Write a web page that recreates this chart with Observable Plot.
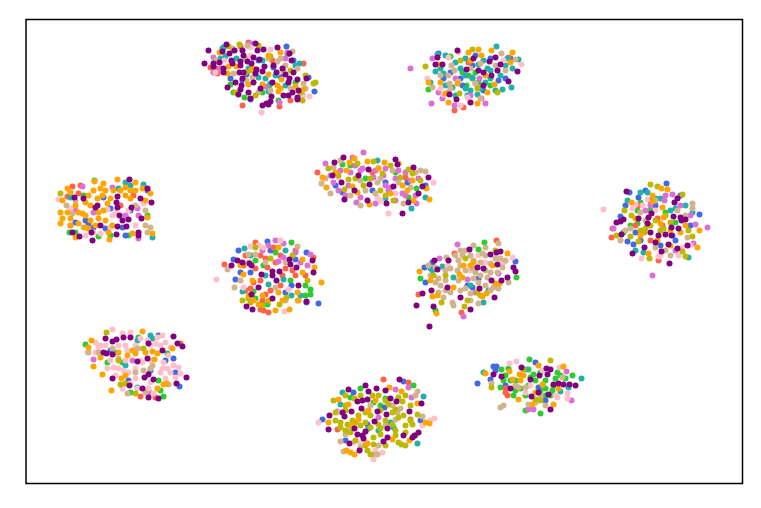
<!DOCTYPE html>
<html><head><meta charset="utf-8">
<style>html,body{margin:0;padding:0;background:#fff}svg{display:block}</style>
<script src="https://cdn.jsdelivr.net/npm/d3@7"></script>
<script src="https://cdn.jsdelivr.net/npm/@observablehq/plot@0.6"></script>
</head><body><div id="c"></div><script>
const green=[[233,92],[244,97],[269,85],[287,54],[295,82],[428,89],[450,56],[472,78],[466,85],[468,75],[475,72],[342,164],[416,188],[365,178],[408,197],[94,180],[69,232],[147,215],[128,235],[98,236],[83,195],[637,210],[637,223],[665,212],[623,232],[291,242],[263,265],[310,289],[305,285],[310,294],[267,304],[255,260],[305,295],[253,291],[420,278],[435,310],[478,249],[516,277],[484,242],[85,344],[167,353],[158,380],[163,396],[138,337],[148,390],[107,362],[413,385],[350,397],[373,402],[529,359],[501,369],[508,368],[500,387],[528,369],[540,413],[525,410],[572,375],[513,395],[557,372],[530,377],[553,385],[552,390],[503,380],[533,374],[540,390],
[230,84],[262,92],[278,100],[462,72],[478,82],[490,85],[350,165],[395,172],[75,232],[110,235],[640,202],[650,210],[630,225],[675,222],[275,252],[290,280],[255,298],[122,362],[160,390],[130,392],[360,388],[385,398],[380,405],[505,375],[515,380],[520,388],[525,395],[545,380],[540,372],[555,378],[560,375],[550,395],[535,380],[515,390],[510,380],[528,385],[545,395],[530,405],[545,388],[565,378]];
const royal=[[286,46],[314,91],[308,77],[273,67],[242,80],[250,99],[223,47],[438,53],[443,78],[483,90],[460,78],[498,80],[510,58],[472,65],[342,192],[407,182],[372,190],[425,185],[103,197],[88,223],[93,227],[147,190],[122,227],[666,183],[638,197],[620,216],[699,214],[635,232],[627,241],[633,244],[672,235],[629,192],[318,303],[267,241],[306,252],[233,259],[235,279],[250,272],[291,285],[295,259],[238,250],[306,302],[424,267],[425,282],[515,261],[472,287],[467,285],[179,386],[175,372],[128,380],[173,358],[158,335],[403,381],[322,419],[353,392],[420,420],[345,440],[384,407],[367,424],[477,383],[493,366],[496,366],[490,379],[535,362],[538,387],
[246,74],[258,60],[280,76],[293,60],[230,78],[450,72],[462,85],[475,55],[490,58],[505,78],[335,185],[385,182],[75,222],[85,220],[105,228],[125,235],[110,208],[130,210],[645,190],[680,195],[625,205],[655,205],[690,225],[640,240],[660,245],[675,240],[650,200],[240,272],[270,250],[285,292],[432,262],[478,278],[150,370],[165,360],[110,350],[495,370],[505,385],[545,400]];
const tomato=[[248,42],[210,67],[303,63],[217,73],[242,105],[279,106],[454,110],[468,62],[508,57],[463,107],[317,172],[372,172],[405,177],[72,186],[133,195],[78,193],[67,196],[611,237],[612,228],[657,218],[638,205],[658,260],[224,264],[255,242],[268,312],[260,309],[263,310],[243,265],[260,255],[282,275],[253,282],[273,247],[313,257],[265,294],[280,255],[292,270],[267,267],[496,240],[418,294],[461,312],[454,253],[140,396],[155,397],[180,343],[383,379],[337,429],[408,382],[410,419],[505,392],[507,395],
[215,68],[272,60],[240,46],[290,100],[80,185],[120,205],[635,225],[662,225],[650,240],[245,255],[255,268],[265,258],[275,262],[285,268],[295,275],[260,280],[270,290],[280,285],[250,288],[295,250],[245,290],[262,300],[305,275],[505,388]];
const teal=[[299,63],[222,48],[268,91],[258,77],[220,58],[270,83],[496,46],[437,54],[435,71],[443,73],[511,87],[502,89],[460,68],[467,95],[477,94],[490,78],[472,77],[507,58],[452,87],[483,60],[430,82],[487,68],[465,88],[518,59],[377,160],[411,208],[425,197],[385,198],[118,188],[143,184],[152,237],[70,197],[627,200],[647,192],[688,257],[692,212],[675,208],[643,252],[655,198],[244,248],[242,291],[291,295],[268,284],[283,279],[442,266],[430,268],[483,302],[453,277],[137,340],[150,335],[137,387],[423,396],[342,392],[340,404],[417,443],[390,422],[393,427],[581,378],[483,372],[568,387],[560,391],[525,369],
[225,56],[236,58],[248,68],[262,60],[275,75],[285,85],[295,65],[265,78],[445,55],[455,62],[465,58],[478,64],[490,70],[505,65],[512,68],[445,85],[470,90],[485,82],[495,90],[500,75],[455,95],[440,68],[465,75],[480,88],[130,185],[125,182],[640,192],[670,210],[660,198],[685,205],[635,250],[250,255],[265,275],[285,250],[300,295],[432,270],[470,285],[488,290],[115,352],[152,338],[125,365],[378,430],[368,428]];
const orchid=[[213,57],[279,102],[250,43],[213,72],[287,52],[302,95],[410,68],[431,103],[432,58],[454,105],[442,98],[485,103],[481,98],[479,78],[475,83],[455,78],[363,152],[352,157],[355,165],[362,168],[325,163],[333,182],[356,202],[385,185],[390,187],[383,175],[373,177],[416,203],[398,170],[410,180],[402,193],[82,186],[112,187],[137,208],[138,238],[70,225],[93,212],[75,210],[125,215],[652,275],[707,227],[695,224],[613,228],[664,200],[693,243],[672,194],[645,210],[283,243],[310,254],[307,265],[262,250],[278,261],[268,245],[283,257],[457,244],[463,316],[467,279],[439,258],[498,273],[475,292],[93,359],[132,360],[148,393],[408,387],[395,389],[411,397],[337,411],[378,417],[566,371],[571,400],[533,409],[528,409],
[220,68],[265,86],[285,58],[448,92],[470,95],[438,92],[340,170],[350,172],[348,185],[360,170],[375,170],[385,168],[395,178],[405,172],[418,178],[405,195],[395,200],[375,203],[360,197],[338,190],[330,175],[345,195],[388,190],[415,195],[138,215],[650,205],[665,195],[680,205],[690,215],[675,250],[275,240],[295,252],[300,262]];
const pink=[[270,49],[309,96],[261,112],[302,96],[250,47],[215,72],[521,64],[448,57],[440,88],[467,97],[460,105],[443,94],[427,78],[388,213],[433,182],[377,197],[380,200],[378,167],[338,177],[395,193],[112,215],[58,199],[70,208],[100,233],[93,232],[143,203],[107,209],[603,209],[632,208],[635,204],[647,199],[641,258],[678,255],[658,256],[682,247],[216,279],[284,311],[250,246],[288,289],[263,247],[243,287],[478,255],[512,257],[470,270],[503,262],[447,265],[112,329],[130,332],[122,333],[157,337],[147,340],[165,342],[87,352],[98,347],[118,345],[127,350],[138,348],[155,343],[162,335],[170,347],[113,367],[118,368],[107,368],[123,370],[135,368],[163,362],[167,368],[173,365],[178,367],[162,368],[175,377],[180,373],[137,388],[122,388],[148,388],[153,393],[95,342],[318,422],[434,418],[373,459],[422,425],[382,452],[360,443],[430,420],[353,442],[338,412],[509,363],[516,361],[559,367],[567,393],[567,398],[557,397],[530,385],[542,370],
[224,60],[250,55],[278,72],[458,52],[503,60],[128,210],[115,212],[135,225],[110,227],[85,235],[642,205],[655,210],[660,255],[690,245],[258,245],[280,240],[485,262],[100,345],[105,345],[125,345],[135,345],[150,345],[160,345],[110,360],[125,360],[140,360],[150,360],[160,372],[170,372],[128,372],[135,378],[150,382],[165,378],[95,352],[130,383],[115,375],[142,362],[168,355],[140,338],[365,442],[375,450],[525,392],[555,395]];
const tan=[[247,45],[292,51],[277,61],[285,65],[283,70],[303,83],[290,88],[255,72],[252,77],[233,73],[270,90],[501,53],[515,59],[451,65],[454,70],[440,75],[449,83],[432,87],[505,70],[480,63],[475,83],[450,88],[458,81],[321,183],[330,193],[333,167],[325,178],[350,195],[375,193],[377,182],[425,171],[420,170],[398,182],[403,203],[392,170],[360,180],[410,187],[66,205],[147,232],[83,227],[145,225],[72,213],[150,227],[692,203],[692,208],[677,210],[620,240],[630,228],[670,255],[655,247],[645,220],[687,237],[625,230],[297,246],[234,287],[227,269],[248,254],[255,254],[285,300],[297,300],[275,287],[240,280],[473,245],[485,247],[498,243],[460,250],[462,255],[446,257],[428,265],[435,267],[438,278],[440,285],[438,292],[443,297],[452,302],[453,305],[430,275],[480,275],[473,278],[465,288],[472,268],[487,277],[482,253],[490,263],[502,267],[495,258],[505,260],[485,255],[457,270],[460,265],[450,268],[478,303],[498,288],[493,287],[508,282],[450,292],[473,260],[485,285],[470,293],[455,255],[112,348],[88,352],[137,348],[152,365],[143,370],[127,393],[98,352],[168,384],[150,368],[340,441],[343,451],[345,434],[415,395],[417,391],[377,454],[373,454],[378,445],[392,405],[422,416],[395,419],[350,427],[397,412],[503,405],[500,407],[491,383],[518,387],[525,387],[562,377],[545,405],[528,404],[535,402],
[215,60],[232,48],[245,58],[268,58],[280,58],[297,68],[305,88],[258,92],[246,80],[448,75],[470,68],[495,65],[480,98],[340,160],[365,190],[380,178],[415,172],[360,205],[75,200],[135,205],[145,210],[640,212],[655,200],[685,215],[665,250],[248,262],[265,262],[285,262],[445,270],[445,280],[458,280],[465,270],[475,272],[485,270],[480,262],[490,272],[465,250],[470,255],[500,258],[478,282],[470,300],[460,290],[445,290],[458,260],[497,272],[490,290],[435,282],[118,358],[135,372],[145,392],[370,405],[400,408],[360,447],[385,425],[515,385],[540,395]];
const olive=[[239,44],[315,82],[313,83],[305,75],[302,100],[258,45],[250,70],[235,92],[425,66],[460,60],[472,49],[497,92],[459,93],[477,88],[328,168],[373,161],[348,179],[344,189],[382,173],[408,169],[412,173],[400,177],[393,200],[380,190],[357,163],[363,185],[60,193],[650,184],[657,186],[682,194],[624,210],[631,215],[645,228],[644,232],[660,230],[663,228],[692,236],[616,235],[630,236],[638,241],[682,251],[685,256],[649,258],[665,215],[688,230],[242,300],[255,247],[279,304],[286,297],[250,302],[270,258],[307,280],[441,302],[464,306],[433,275],[467,300],[477,292],[465,258],[106,332],[120,384],[143,348],[118,360],[135,393],[333,400],[354,398],[378,395],[398,397],[402,401],[388,404],[395,409],[403,415],[398,417],[392,424],[405,425],[340,422],[340,427],[347,424],[352,420],[358,415],[365,422],[370,427],[378,424],[380,434],[373,437],[367,450],[370,454],[398,442],[401,444],[412,424],[417,414],[415,435],[345,405],[335,412],[373,444],[392,412],[365,412],[355,422],[385,420],[550,360],[523,369],[491,387],[535,399],[540,400],
[228,46],[245,72],[270,56],[290,70],[300,92],[255,95],[338,175],[355,178],[370,178],[390,165],[385,195],[420,180],[655,220],[650,225],[670,222],[640,230],[262,305],[248,298],[292,255],[445,275],[480,295],[495,250],[125,383],[345,395],[360,395],[372,395],[385,400],[405,395],[410,405],[395,430],[380,410],[370,415],[345,410],[350,432],[360,425],[380,428],[395,435],[405,432],[405,445],[385,445],[365,445],[345,430],[335,420],[355,440],[410,420]];
const orange=[[268,55],[280,52],[227,73],[248,84],[278,91],[303,89],[281,79],[277,85],[228,66],[491,50],[478,49],[468,52],[512,52],[481,55],[428,82],[457,83],[494,84],[445,93],[448,102],[477,103],[487,92],[438,64],[322,177],[326,187],[349,162],[354,158],[346,170],[367,161],[384,162],[398,163],[369,204],[429,199],[407,190],[412,180],[413,200],[426,188],[357,192],[390,193],[94,181],[117,179],[135,182],[103,183],[125,187],[130,190],[93,190],[100,188],[62,200],[67,188],[85,202],[78,212],[82,213],[60,212],[62,218],[60,223],[97,198],[102,195],[98,212],[103,210],[98,218],[107,203],[147,217],[152,233],[132,233],[109,239],[85,227],[75,237],[78,223],[108,232],[142,188],[150,193],[125,195],[70,225],[95,225],[88,228],[67,212],[661,188],[667,189],[652,195],[652,201],[631,202],[635,218],[662,207],[660,223],[680,232],[699,230],[697,247],[648,253],[657,240],[670,230],[663,217],[321,282],[314,267],[278,247],[289,309],[252,280],[278,292],[258,304],[262,295],[243,274],[302,272],[297,292],[302,259],[253,300],[240,265],[419,271],[507,253],[436,313],[432,296],[437,295],[459,274],[462,277],[463,265],[453,287],[486,293],[482,296],[492,265],[495,283],[499,283],[473,262],[142,331],[91,340],[88,347],[100,357],[93,366],[102,374],[111,390],[127,355],[132,350],[152,351],[157,353],[154,359],[172,348],[121,378],[125,375],[157,388],[163,384],[166,383],[135,353],[338,399],[348,404],[328,422],[368,410],[358,419],[367,443],[346,450],[350,452],[354,454],[392,439],[425,422],[429,423],[409,440],[401,391],[389,387],[417,403],[485,373],[509,371],[519,374],[523,375],[538,365],[563,366],[558,388],[518,399],[532,404],[553,404],[542,384],[512,379],
[219,52],[236,66],[252,68],[268,74],[262,84],[280,88],[295,86],[470,60],[485,75],[510,62],[440,82],[335,172],[352,186],[378,168],[402,185],[70,192],[75,205],[88,195],[90,205],[105,190],[110,198],[113,190],[85,215],[90,220],[70,218],[105,220],[112,225],[120,190],[135,190],[145,200],[130,198],[640,235],[670,245],[685,225],[248,295],[268,300],[282,300],[275,310],[298,300],[430,280],[470,265],[118,352],[145,352],[375,400],[352,425],[520,380],[535,392]];
const purple=[[208,50],[204,63],[226,44],[222,51],[229,53],[234,50],[242,50],[243,55],[219,62],[213,63],[213,66],[223,68],[223,72],[231,60],[232,63],[240,61],[240,65],[247,61],[253,57],[259,59],[251,63],[255,43],[257,50],[263,49],[277,47],[289,53],[291,60],[264,66],[256,69],[255,73],[262,71],[273,65],[276,72],[282,68],[285,74],[293,72],[239,72],[243,72],[235,82],[242,78],[241,85],[240,89],[227,87],[238,94],[248,92],[260,88],[253,82],[272,82],[289,78],[288,82],[297,79],[306,78],[298,90],[292,92],[288,95],[283,95],[297,97],[297,99],[271,96],[270,101],[266,103],[262,105],[268,104],[250,98],[457,50],[437,57],[435,64],[442,64],[466,69],[473,58],[489,61],[495,57],[500,64],[478,70],[483,72],[491,75],[497,70],[517,71],[508,81],[483,85],[449,94],[456,99],[470,102],[343,157],[334,162],[332,175],[341,182],[358,175],[368,169],[369,184],[354,190],[344,199],[367,200],[386,203],[393,186],[395,159],[397,164],[413,167],[428,177],[422,186],[418,193],[408,202],[402,213],[129,179],[147,188],[74,197],[83,198],[117,196],[116,202],[140,198],[151,202],[97,205],[95,207],[117,207],[131,207],[119,215],[122,220],[128,219],[126,226],[117,226],[141,218],[100,225],[72,232],[79,236],[91,232],[92,240],[116,234],[138,232],[138,235],[669,263],[626,191],[677,198],[674,202],[638,218],[651,213],[648,217],[616,222],[620,221],[623,219],[647,223],[673,216],[680,217],[681,220],[685,219],[671,227],[678,228],[650,232],[621,234],[658,235],[665,234],[671,235],[655,242],[668,244],[644,247],[677,248],[687,245],[661,251],[632,253],[231,265],[237,260],[249,263],[251,265],[242,262],[261,274],[272,271],[272,275],[279,271],[276,280],[258,287],[251,294],[272,298],[246,306],[252,309],[289,259],[290,264],[296,267],[312,260],[313,272],[298,285],[306,301],[416,305],[429,326],[433,306],[422,293],[431,290],[434,260],[448,260],[437,269],[447,287],[460,297],[470,309],[469,249],[490,254],[496,252],[500,251],[477,267],[483,268],[497,264],[491,280],[501,280],[507,277],[513,267],[515,271],[479,288],[494,297],[105,338],[112,341],[116,339],[123,337],[130,337],[173,336],[148,343],[177,343],[182,346],[103,352],[106,353],[112,354],[162,350],[137,361],[147,358],[148,374],[144,377],[153,379],[112,378],[129,385],[142,388],[186,377],[176,383],[148,397],[158,398],[399,379],[348,389],[365,385],[376,388],[385,390],[368,391],[357,401],[362,400],[367,399],[390,398],[396,401],[421,403],[361,408],[351,411],[342,412],[344,416],[329,415],[328,429],[377,411],[386,414],[409,411],[374,421],[354,428],[357,434],[365,431],[362,435],[363,438],[387,428],[387,437],[383,441],[349,443],[403,435],[418,432],[414,435],[412,437],[359,450],[493,374],[501,376],[510,388],[521,367],[546,368],[550,369],[547,374],[539,375],[530,379],[553,384],[558,383],[563,384],[569,384],[575,385],[538,392],[548,394],[531,396],[550,409]];

const layers=[[green,"#2ecc2e"],[royal,"#4169e1"],[tomato,"#ff6347"],[teal,"#20b2aa"],[orchid,"#da70d6"],[pink,"#ffc0cb"],[tan,"#d2b48c"],[olive,"#bdb800"],[orange,"#ffa500"],[purple,"#800080"]];
const chart=Plot.plot({
  width:761,height:508,
  marginLeft:25.5,marginRight:19,marginTop:19,marginBottom:25,
  x:{domain:[25.5,742],axis:null},
  y:{domain:[19,483],range:[19,483],axis:null},
  marks:[
    ...layers.map(([pts,col])=>Plot.dot(pts,{x:d=>d[0],y:d=>d[1],r:3,fill:col,stroke:"none"})),
    Plot.frame({stroke:"#000",strokeWidth:1.5})
  ]
});
document.getElementById("c").append(chart);
</script></body></html>
